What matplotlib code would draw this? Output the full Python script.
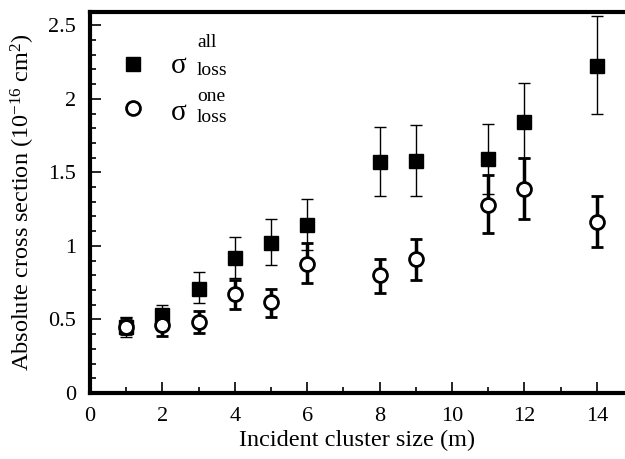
import numpy as np
import matplotlib
matplotlib.use("Agg")
import matplotlib.pyplot as plt
from matplotlib.ticker import MultipleLocator

plt.rcParams["font.family"] = ["Liberation Serif", "DejaVu Serif"]
plt.rcParams["mathtext.fontset"] = "custom"
plt.rcParams["mathtext.rm"] = "Liberation Serif"
plt.rcParams["mathtext.it"] = "Liberation Serif:italic"

# cluster sizes
m = [1, 2, 3, 4, 5, 6, 8, 9, 11, 12, 14]

# sigma_loss^all
all_val = [0.45, 0.53, 0.71, 0.92, 1.02, 1.14, 1.57, 1.58, 1.59, 1.84, 2.22]
all_lo = [0.38, 0.46, 0.61, 0.78, 0.87, 0.97, 1.34, 1.34, 1.35, 1.60, 1.90]
all_hi = [0.52, 0.60, 0.82, 1.06, 1.18, 1.32, 1.81, 1.82, 1.83, 2.11, 2.56]

# sigma_loss^one
one_val = [0.45, 0.46, 0.48, 0.67, 0.62, 0.88, 0.80, 0.91, 1.28, 1.39, 1.16]
one_lo = [0.40, 0.39, 0.41, 0.57, 0.52, 0.75, 0.68, 0.77, 1.09, 1.18, 0.99]
one_hi = [0.51, 0.53, 0.56, 0.77, 0.71, 1.02, 0.91, 1.05, 1.48, 1.60, 1.34]

all_val = np.array(all_val)
one_val = np.array(one_val)
all_err = [all_val - np.array(all_lo), np.array(all_hi) - all_val]
one_err = [one_val - np.array(one_lo), np.array(one_hi) - one_val]

fig = plt.figure(figsize=(6.25, 4.59), dpi=100)
ax = fig.add_axes([0.144, 0.1438, 0.856, 0.830])

ax.errorbar(m, all_val, yerr=all_err, fmt="s", color="black", ms=10,
            elinewidth=1, capsize=4, capthick=1, zorder=3)
ax.errorbar(m, one_val, yerr=one_err, fmt="o", color="black", mfc="white",
            mec="black", mew=2, ms=10, elinewidth=2.5, capsize=4, capthick=2.5,
            zorder=4)

ax.set_xlim(0, 14.78)
ax.set_ylim(0, 2.59)
ax.xaxis.set_major_locator(MultipleLocator(2))
ax.xaxis.set_minor_locator(MultipleLocator(1))
ax.yaxis.set_major_locator(MultipleLocator(0.5))
ax.yaxis.set_minor_locator(MultipleLocator(0.1))
ax.set_yticks([0, 0.5, 1, 1.5, 2, 2.5])
ax.set_yticklabels(["0", "0.5", "1", "1.5", "2", "2.5"])

ax.spines["right"].set_visible(False)
for s in ["left", "bottom", "top"]:
    ax.spines[s].set_linewidth(3)
ax.tick_params(which="both", direction="in", top=False, right=False,
               labelsize=16, width=1.2)
ax.tick_params(which="major", length=8, pad=10)
ax.tick_params(which="minor", length=4)

ax.set_xlabel("Incident cluster size (m)", fontsize=17.5, labelpad=3)
ax.set_ylabel("Absolute cross section (10$^{-16}$ cm$^{2}$)", fontsize=17.5,
              labelpad=8)

# legend drawn by hand
ax.plot([0.081], [0.863], "s", color="black", ms=10, transform=ax.transAxes,
        clip_on=False)
ax.plot([0.081], [0.748], "o", color="black", mfc="white", mew=2, ms=10,
        transform=ax.transAxes, clip_on=False)
ax.text(0.200, 0.921, "all", fontsize=14, transform=ax.transAxes, ha="left",
        va="center")
ax.text(0.200, 0.846, "loss", fontsize=14, transform=ax.transAxes, ha="left",
        va="center")
ax.text(0.200, 0.777, "one", fontsize=14, transform=ax.transAxes, ha="left",
        va="center")
ax.text(0.200, 0.724, "loss", fontsize=14, transform=ax.transAxes, ha="left",
        va="center")
ax.text(0.180, 0.858, "σ", fontsize=21, transform=ax.transAxes, ha="right",
        va="center")
ax.text(0.180, 0.736, "σ", fontsize=21, transform=ax.transAxes, ha="right",
        va="center")

fig.savefig("out.png", dpi=100)
